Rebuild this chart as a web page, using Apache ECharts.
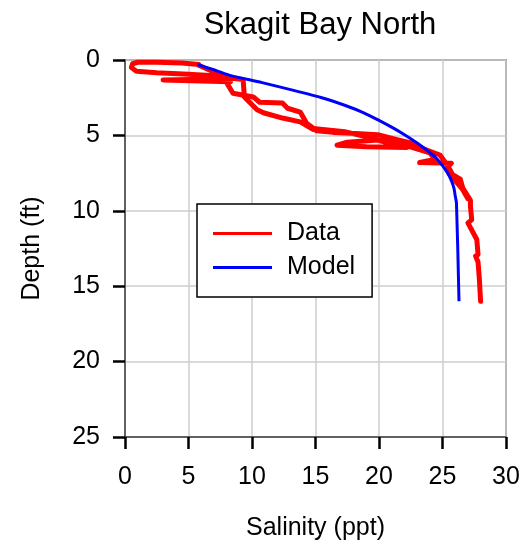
<!DOCTYPE html>
<html>
<head>
<meta charset="utf-8">
<script src="https://cdn.jsdelivr.net/npm/echarts@6/dist/echarts.min.js"></script>
<style>
  html, body { margin: 0; padding: 0; background: #fff; }
  #chart { width: 529px; height: 546px; }
</style>
</head>
<body>
<div id="chart"></div>
<script>
// Salinity (ppt) vs depth (ft) profile, Skagit Bay North.

// Measured profile, first pass: [salinity, depth]
const castDown = [
  [5.8, 0.3], [4.5, 0.2], [2.5, 0.15], [1.0, 0.15], [0.6, 0.25], [0.5, 0.5],
  [0.9, 0.75], [2.5, 0.85], [5.0, 0.95], [7.0, 1.05], [8.5, 1.25], [3.0, 1.32],
  [8.3, 1.45], [8.0, 1.5], [8.5, 2.2], [10.1, 2.45], [10.6, 2.8], [12.4, 2.85],
  [12.8, 3.2], [13.8, 3.45], [14.3, 4.2], [15.1, 4.7], [16.4, 4.8], [17.8, 4.85],
  [19.9, 4.95], [21.5, 5.3], [22.5, 5.5], [23.5, 5.9], [24.8, 6.3], [25.4, 7.0],
  [25.8, 7.6], [26.4, 7.9], [26.6, 8.5], [27.2, 9.3], [27.2, 9.7], [27.3, 10.6],
  [27.0, 10.8], [27.7, 11.9], [27.8, 12.9], [27.6, 13.0], [27.8, 13.4],
  [27.9, 14.5], [28.0, 16.0]
];

// Measured profile, return pass: [salinity, depth]
const castUp = [
  [27.0, 9.2], [26.6, 8.6], [26.0, 8.0], [25.5, 7.5], [25.4, 7.1], [25.7, 6.85],
  [23.2, 6.8], [24.4, 6.6], [24.0, 6.15], [22.4, 5.75], [19.9, 5.3], [17.5, 5.45],
  [16.7, 5.65], [19.0, 5.75], [22.2, 5.8], [21.0, 5.6], [19.5, 5.2], [17.3, 4.75],
  [15.0, 4.55], [14.8, 4.6], [13.8, 4.1], [12.4, 3.85], [10.9, 3.5], [10.4, 3.3],
  [9.4, 2.45], [9.3, 1.3], [8.3, 1.2], [7.0, 0.8], [5.8, 0.35]
];

// Model profile
const modelDepth    = [0.3, 0.6, 1.0, 1.5, 2.0, 2.5, 3.0, 3.5, 4.0, 4.5, 5.0, 5.5, 6.0, 6.5, 7.0, 7.5, 8.0, 8.5, 9.0, 9.5, 16.0];
const modelSalinity = [5.7, 6.8, 8.2, 10.8, 13.2, 15.5, 17.3, 18.8, 20.0, 21.1, 22.1, 23.0, 23.8, 24.5, 25.0, 25.4, 25.7, 25.9, 26.0, 26.1, 26.3];

const xTicks = [0, 5, 10, 15, 20, 25, 30];
const yTicks = [0, 5, 10, 15, 20, 25];

const FONT = '"Liberation Sans", Arial, sans-serif';
const chart = echarts.init(document.getElementById('chart'));

// both passes in one line, separated by a gap
const dataPath = castDown.concat([['-', '-']], castUp);

chart.setOption({
  animation: false,
  backgroundColor: '#fff',
  title: {
    text: 'Skagit Bay North',
    left: 315, top: 5, textAlign: 'center',
    textStyle: { fontFamily: FONT, fontSize: 31, fontWeight: 'normal', color: '#000' }
  },
  grid: {
    left: 125, right: 23, top: 60, bottom: 108,
    show: true, borderColor: '#555', borderWidth: 1.5, backgroundColor: 'transparent'
  },
  legend: {
    data: ['Data', 'Model'],
    orient: 'vertical',
    left: 197, top: 204,
    backgroundColor: '#fff',
    borderColor: '#000', borderWidth: 1.5, borderRadius: 0,
    padding: [17, 17, 17, 16],
    itemGap: 9,
    icon: 'rect',
    itemWidth: 59, itemHeight: 3,
    textStyle: { fontFamily: FONT, fontSize: 25, color: '#000', padding: [0, 0, 0, 10] }
  },
  xAxis: {
    type: 'value', position: 'bottom',
    min: xTicks[0], max: xTicks[xTicks.length - 1], interval: 5,
    name: 'Salinity (ppt)', nameLocation: 'middle', nameGap: 79,
    nameTextStyle: { fontFamily: FONT, fontSize: 25, color: '#000' },
    axisLine: { show: true, onZero: false, lineStyle: { color: '#444', width: 1.5 } },
    axisTick: { show: true, inside: false, length: 12, lineStyle: { color: '#000', width: 2.5 } },
    axisLabel: { margin: 28, fontFamily: FONT, fontSize: 25, color: '#000' },
    splitLine: { show: true, lineStyle: { color: '#cccccc', width: 1.5 } }
  },
  yAxis: {
    type: 'value', inverse: true, position: 'left',
    min: yTicks[0], max: yTicks[yTicks.length - 1], interval: 5,
    name: 'Depth (ft)', nameLocation: 'middle', nameGap: 80, nameRotate: 90,
    nameTextStyle: { fontFamily: FONT, fontSize: 25, color: '#000' },
    axisLine: { show: true, onZero: false, lineStyle: { color: '#444', width: 1.5 } },
    axisTick: { show: true, inside: false, length: 12, lineStyle: { color: '#000', width: 2.5 } },
    axisLabel: { margin: 25, fontFamily: FONT, fontSize: 25, color: '#000' },
    splitLine: { show: true, lineStyle: { color: '#cccccc', width: 1.5 } }
  },
  series: [
    {
      name: 'Data', type: 'line', data: dataPath,
      showSymbol: false, symbol: 'none', connectNulls: false,
      lineStyle: { color: '#ff0000', width: 5, join: 'round', cap: 'round' },
      itemStyle: { color: '#ff0000' }, z: 2
    },
    {
      name: 'Model', type: 'line',
      data: modelDepth.map((d, i) => [modelSalinity[i], d]),
      showSymbol: false, symbol: 'none', smooth: 0.3,
      lineStyle: { color: '#0000ff', width: 3 },
      itemStyle: { color: '#0000ff' }, z: 3
    }
  ]
});
</script>
</body>
</html>
